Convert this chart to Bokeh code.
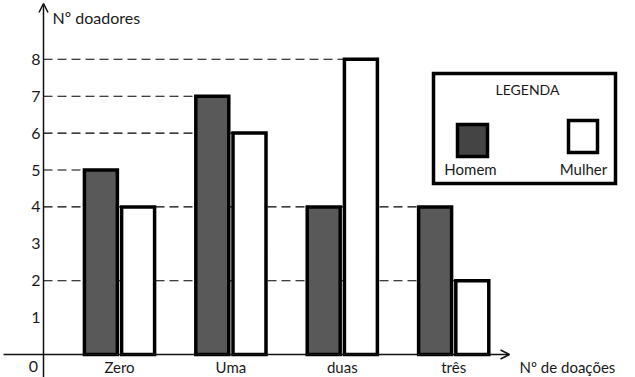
from bokeh.plotting import figure
from bokeh.models import Range1d, Arrow, OpenHead
from bokeh.core.properties import value
from bokeh.embed import file_html
from bokeh.resources import INLINE

# ---- data ----
categories = ["Zero", "Uma", "duas", "três"]
homem = [5, 7, 4, 4]
mulher = [4, 6, 8, 2]
y_ticks = [1, 2, 3, 4, 5, 6, 7, 8]
y_tick_labels = ["1", "2", "3", "4", "5", "6", "7", "8"]
y_title = "Nº doadores"
x_title = "Nº de doações"
legend_title = "LEGENDA"
series_names = ["Homem", "Mulher"]

# ---- pixel <-> data helpers (layout only) ----
W, H = 635, 377
X0, SX = 119.0, 111.4
Y0, SY = 354.0, 36.9


def dx(px):
    return (px - X0) / SX


def dy(py):
    return (Y0 - py) / SY


FONT = value("Lato")
TXT = "#1a1a1a"
BAR_W = 0.296
OFF = 0.167

p = figure(width=W, height=H, output_backend="svg", toolbar_location=None,
           x_range=Range1d(dx(0), dx(W)), y_range=Range1d(dy(H), dy(0)),
           x_axis_location=None, y_axis_location=None, min_border=0,
           outline_line_color=None, tools="")
p.grid.visible = False
p.background_fill_color = "white"
p.border_fill_color = "white"

idx = list(range(len(categories)))
hx = [i - OFF for i in idx]
mx = [i + OFF for i in idx]

# dashed reference lines: from y axis to the farthest bar with that value
lefts = {}
for xs, vals in ((hx, homem), (mx, mulher)):
    for x, v in zip(xs, vals):
        le = x - BAR_W / 2
        lefts[v] = max(lefts.get(v, -99), le)
vals_sorted = sorted(lefts)
p.segment(x0=[dx(43)] * len(vals_sorted), y0=vals_sorted,
          x1=[lefts[v] for v in vals_sorted], y1=vals_sorted,
          line_color="black", line_width=1.1, line_dash="9 5")

# bars
p.vbar(x=hx, top=homem, bottom=0, width=BAR_W, fill_color="#595959",
       line_color="black", line_width=3.5, line_join="miter")
p.vbar(x=mx, top=mulher, bottom=0, width=BAR_W, fill_color="white",
       line_color="black", line_width=3.5, line_join="miter")

# axes with open arrow heads
p.add_layout(Arrow(end=OpenHead(size=9, line_width=1.5, line_color="#111111"),
                   x_start=dx(43), y_start=dy(H), x_end=dx(43), y_end=dy(3),
                   line_color="#111111", line_width=1.5))
p.add_layout(Arrow(end=OpenHead(size=9, line_width=1.5, line_color="#111111"),
                   x_start=dx(3), y_start=0, x_end=dx(509), y_end=0,
                   line_color="#111111", line_width=1.5))

# y tick labels
p.text(x=[dx(40)] * len(y_ticks), y=y_ticks, text=y_tick_labels,
       text_align="right", text_baseline="middle", text_font=FONT,
       text_font_size="16px", text_color=TXT)
p.text(x=[dx(33)], y=[dy(366)], text=["0"], text_align="center",
       text_baseline="middle", text_font=FONT, text_font_size="16px",
       text_color=TXT)

# category labels
p.text(x=idx, y=[dy(366)] * len(idx), text=categories, text_align="center",
       text_baseline="middle", text_font=FONT, text_font_size="15px",
       text_color=TXT)

# axis titles
p.text(x=[dx(52)], y=[dy(17)], text=[y_title], text_align="left",
       text_baseline="middle", text_font=FONT, text_font_size="16px",
       text_color=TXT)
p.text(x=[dx(519)], y=[dy(366)], text=[x_title], text_align="left",
       text_baseline="middle", text_font=FONT, text_font_size="15px",
       text_color=TXT)

# legend box
p.quad(left=[dx(433)], right=[dx(615)], top=[dy(73)], bottom=[dy(183)],
       fill_color="white", line_color="black", line_width=3.5,
       line_join="miter")
p.text(x=[dx(527)], y=[dy(89)], text=[legend_title], text_align="center",
       text_baseline="middle", text_font=FONT, text_font_size="14px",
       text_color=TXT)
p.quad(left=[dx(457)], right=[dx(487)], top=[dy(124)], bottom=[dy(156)],
       fill_color="#444444", line_color="black", line_width=3.5,
       line_join="miter")
p.quad(left=[dx(568)], right=[dx(597)], top=[dy(120)], bottom=[dy(152)],
       fill_color="white", line_color="black", line_width=3.5,
       line_join="miter")
p.text(x=[dx(470), dx(583)], y=[dy(168), dy(168)], text=series_names,
       text_align="center", text_baseline="middle", text_font=FONT,
       text_font_size="15px", text_color=TXT)

open("out.html", "w").write(file_html(p, INLINE))
